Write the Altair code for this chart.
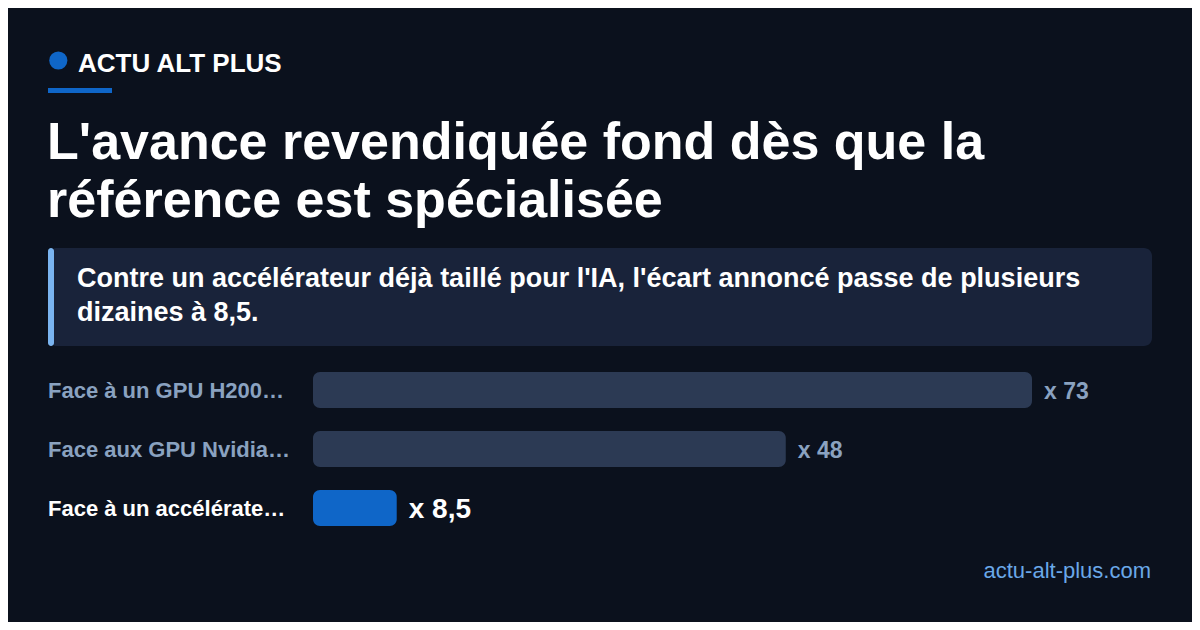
import altair as alt
import pandas as pd

# ---- data ----
categories = ["Face à un GPU H200…", "Face aux GPU Nvidia…", "Face à un accélérate…"]
values = [73, 48, 8.5]
value_labels = ["x 73", "x 48", "x 8,5"]
highlight = [False, False, True]

brand = "ACTU ALT PLUS"
title_lines = ["L'avance revendiquée fond dès que la", "référence est spécialisée"]
subtitle_lines = ["Contre un accélérateur déjà taillé pour l'IA, l'écart annoncé passe de plusieurs",
                  "dizaines à 8,5."]
footer = "actu-alt-plus.com"

BG = "#0b111d"
FONT = "Liberation Sans"
W, H = 1184, 614


def P(v):
    # page pixel -> chart pixel (page margin 8px)
    return v - 8


df = pd.DataFrame({"cat": categories, "val": values, "lab": value_labels, "hl": highlight})
one = pd.DataFrame({"k": [0]})

xs = alt.Scale(domain=[0, 73], range=[P(313), P(1032)])
ys = alt.Scale(domain=categories, range=[P(372) - 0.195 * 59, P(372) - 0.195 * 59 + 177],
               paddingInner=0.39, paddingOuter=0.195)
Y = alt.Y("cat:N", scale=ys, axis=None, sort=categories)

base = alt.Chart(df)

bars = base.mark_bar(cornerRadius=7).encode(
    x=alt.X("val:Q", scale=xs, axis=None),
    x2=alt.datum(0),
    y=Y,
    color=alt.condition("datum.hl", alt.value("#0f66c8"), alt.value("#2c3a54")),
)

cat_labels = base.mark_text(align="left", baseline="middle", font=FONT, fontWeight="bold", fontSize=22, dy=1).encode(
    x=alt.value(P(48)),
    y=Y,
    text="cat:N",
    color=alt.condition("datum.hl", alt.value("#ffffff"), alt.value("#8aa2c0")),
)

val_small = base.transform_filter("!datum.hl").mark_text(
    align="left", baseline="middle", font=FONT, fontWeight="bold", fontSize=23, dx=12, dy=2, color="#8aa2c0"
).encode(
    x=alt.X("val:Q", scale=xs, axis=None),
    y=Y,
    text="lab:N",
)
val_big = base.transform_filter("datum.hl").mark_text(
    align="left", baseline="middle", font=FONT, fontWeight="bold", fontSize=28, dx=12, dy=2, color="#ffffff"
).encode(
    x=alt.X("val:Q", scale=xs, axis=None),
    y=Y,
    text="lab:N",
)

dec = alt.Chart(one)

dot = dec.mark_circle(size=330, color="#0f66c8", opacity=1).encode(x=alt.value(P(58.3)), y=alt.value(P(60.5)))
underline = dec.mark_rect(color="#0f66c8").encode(
    x=alt.value(P(48)), x2=alt.value(P(112)), y=alt.value(P(88)), y2=alt.value(P(93)))
brand_t = dec.mark_text(text=brand, align="left", baseline="alphabetic", font=FONT, fontWeight="bold",
                        fontSize=26, color="#ffffff").encode(x=alt.value(P(78)), y=alt.value(P(72)))

title1 = dec.mark_text(text=title_lines[0], align="left", baseline="alphabetic", font=FONT, fontWeight="bold",
                       fontSize=52, color="#ffffff").encode(x=alt.value(P(47)), y=alt.value(P(159)))
title2 = dec.mark_text(text=title_lines[1], align="left", baseline="alphabetic", font=FONT, fontWeight="bold",
                       fontSize=52, color="#ffffff").encode(x=alt.value(P(47)), y=alt.value(P(217)))

box = dec.mark_rect(color="#19233a", cornerRadius=8).encode(
    x=alt.value(P(48)), x2=alt.value(P(1152)), y=alt.value(P(248)), y2=alt.value(P(346)))
accent = dec.mark_rect(color="#7ab4f0", cornerRadius=3).encode(
    x=alt.value(P(48)), x2=alt.value(P(54)), y=alt.value(P(248)), y2=alt.value(P(346)))
sub1 = dec.mark_text(text=subtitle_lines[0], align="left", baseline="alphabetic", font=FONT, fontWeight="bold",
                     fontSize=27, color="#ffffff").encode(x=alt.value(P(77)), y=alt.value(P(287)))
sub2 = dec.mark_text(text=subtitle_lines[1], align="left", baseline="alphabetic", font=FONT, fontWeight="bold",
                     fontSize=27, color="#ffffff").encode(x=alt.value(P(77)), y=alt.value(P(321)))

foot = dec.mark_text(text=footer, align="right", baseline="alphabetic", font=FONT, fontSize=22,
                     color="#6aa8e8").encode(x=alt.value(P(1151)), y=alt.value(P(578)))

chart = alt.layer(
    box, accent, sub1, sub2, dot, underline, brand_t, title1, title2,
    bars, cat_labels, val_small, val_big, foot
).properties(
    width=W, height=H, background=BG, padding=0,
    autosize=alt.AutoSizeParams(type="none"),
).configure_view(stroke=None)

chart.save("out.html", embed_options={"renderer": "svg", "actions": False})
